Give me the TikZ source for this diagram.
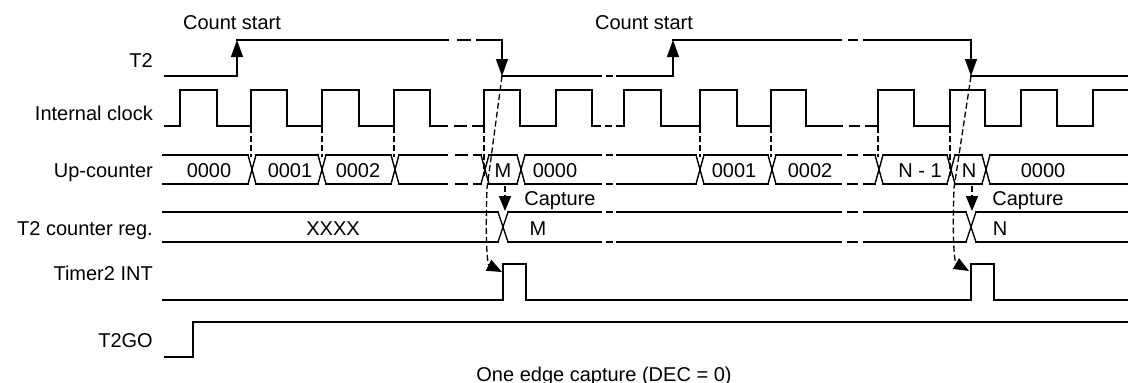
\documentclass[tikz,border=0pt]{standalone}
\usepackage{fontspec}
\setmainfont{Liberation Sans}
\usetikzlibrary{arrows.meta}
\begin{document}
\begin{tikzpicture}[x=1pt,y=-1pt,
  sig/.style={line width=1.4pt, line join=miter, line cap=rect},
  dsh/.style={line width=1.3pt, dash pattern=on 6pt off 3pt},
  lbl/.style={anchor=base east, inner sep=0pt, font=\fontsize{20}{22}\selectfont},
  txt/.style={anchor=base, inner sep=0pt, font=\fontsize{20}{22}\selectfont},
  arr/.style={-{Triangle[length=17pt,width=12pt]}},
  arrd/.style={-{Triangle[length=15pt,width=12pt]}},
]
\useasboundingbox (0,0) rectangle (1128,383);

% ---------- labels ----------
\node[lbl] (lT2)   at (153,67)  {T2};
\node[lbl] (lclk)  at (153,120) {Internal clock};
\node[lbl] (lcnt)  at (153,177) {Up-counter};
\node[lbl] (lreg)  at (153,235) {T2 counter reg.};
\node[lbl] (lint)  at (153,280) {Timer2 INT};
\node[lbl] (lgo)   at (153,347) {T2GO};
\node[txt] (cs1) at (232,29) {Count start};
\node[txt] (cs2) at (644,29) {Count start};
\node[txt] (cap) at (604,381) {One edge capture (DEC = 0)};

% ---------- T2 ----------
\draw[sig] (165,76) -- (237,76);
\draw[sig,arr] (237,76) -- (237,40);
\draw[sig] (237,40) -- (448,40);
\draw[sig] (458,40) -- (470,40);
\draw[sig] (477,40) -- (502,40);
\draw[sig,arr] (502,40) -- (502,76);
\draw[sig] (502,76) -- (601,76);
\draw[sig] (607,76) -- (612,76);
\draw[sig] (617,76) -- (673,76);
\draw[sig,arr] (673,76) -- (673,40);
\draw[sig] (673,40) -- (841,40);
\draw[sig] (849,40) -- (857,40);
\draw[sig] (864,40) -- (971,40);
\draw[sig,arr] (971,40) -- (971,76);
\draw[sig] (971,76) -- (1128,76);

% ---------- Internal clock ----------
\draw[sig] (165,126) -- (180,126) -- (180,90) -- (217,90) -- (217,126) -- (251,126) -- (251,90) -- (287,90) -- (287,126)
  -- (322,126) -- (322,90) -- (359,90) -- (359,126) -- (394,126) -- (394,90) -- (430,90) -- (430,126) -- (447,126);
\draw[sig] (455,126) -- (466,126);
\draw[sig] (473,126) -- (484,126) -- (484,90) -- (520,90) -- (520,126) -- (556,126) -- (556,90) -- (592,90) -- (592,126) -- (600,126);
\draw[sig] (606,126) -- (611,126);
\draw[sig] (617,126) -- (624,126) -- (624,90) -- (661,90) -- (661,126) -- (700,126) -- (700,90) -- (737,90) -- (737,126)
  -- (771,126) -- (771,90) -- (806,90) -- (806,126) -- (842,126);
\draw[sig] (850,126) -- (859,126);
\draw[sig] (866,126) -- (878,126) -- (878,90) -- (914,90) -- (914,126) -- (950,126) -- (950,90) -- (985,90) -- (985,126)
  -- (1021,126) -- (1021,90) -- (1057,90) -- (1057,126) -- (1093,126) -- (1093,90) -- (1128,90);

% ---------- Up-counter bus ----------
\foreach \y in {155,184}{
  \foreach \a/\b in {163/248, 256/318, 326/391, 399/447, 456/467, 474/481, 489/517, 525/601, 607/612, 617/696,
                     704/768, 776/841, 848/857, 864/875, 883/947, 955/982, 990/1128}{
    \draw[sig] (\a,\y) -- (\b,\y);
  }
}
\foreach \x in {252,322,395,485,521,700,772,879,951,986}{
  \draw[sig] (\x-4,155) -- (\x+4,184);
  \draw[sig] (\x-4,184) -- (\x+4,155);
}
\node[txt] (c0)  at (209,177) {0000};
\node[txt] (c1)  at (290,177) {0001};
\node[txt] (c2)  at (358,177) {0002};
\node[txt] (cM)  at (503,177) {M};
\node[txt] (c0b) at (555,177) {0000};
\node[txt] (c1b) at (734,177) {0001};
\node[txt] (c2b) at (810,177) {0002};
\node[txt] (cN1) at (920,177) {N - 1};
\node[txt] (cN)  at (969,177) {N};
\node[txt] (c0c) at (1043,177) {0000};

% ---------- T2 counter reg ----------
\foreach \y in {212,242}{
  \foreach \a/\b in {163/498, 508/601, 607/612, 617/841, 848/857, 864/966, 976/1128}{
    \draw[sig] (\a,\y) -- (\b,\y);
  }
}
\foreach \x in {503,971}{
  \draw[sig] (\x-5,212) -- (\x+5,242);
  \draw[sig] (\x-5,242) -- (\x+5,212);
}
\node[txt] (rX) at (333,235) {XXXX};
\node[txt] (rM) at (538,235) {M};
\node[txt] (rN) at (1000,235) {N};
\node[txt] (cp1) at (560,205) {Capture};
\node[txt] (cp2) at (1028,205) {Capture};

% ---------- Timer2 INT ----------
\draw[sig] (163,300) -- (503,300) -- (503,264) -- (526,264) -- (526,300) -- (971,300) -- (971,264) -- (994,264) -- (994,300) -- (1128,300);

% ---------- T2GO ----------
\draw[sig] (165,357) -- (193,357) -- (193,322) -- (1128,322);

% ---------- dashed relations ----------
\foreach \x in {251,322,394,700,771,878}{
  \draw[dsh] (\x,127) -- (\x,157);
}
\draw[dsh] (484,127) -- (484,176);
\draw[dsh] (950,127) -- (950,176);

\coordinate (f1) at (502,76);
\coordinate (f2) at (971,76);
\coordinate (i1) at (502,272);
\coordinate (i2) at (969,271);
\draw[dsh,arrd] (f1) -- (487,188) .. controls (485,250) and (488,265) .. (i1);
\draw[dsh,arrd] (f2) -- (954,188) .. controls (952,248) and (955,263) .. (i2);

\coordinate (m1) at (505,186);
\coordinate (x1) at (505,211);
\coordinate (m2) at (972,186);
\coordinate (x2) at (972,211);
\draw[dsh,arrd] (m1) -- (x1);
\draw[dsh,arrd] (m2) -- (x2);
\end{tikzpicture}
\end{document}
